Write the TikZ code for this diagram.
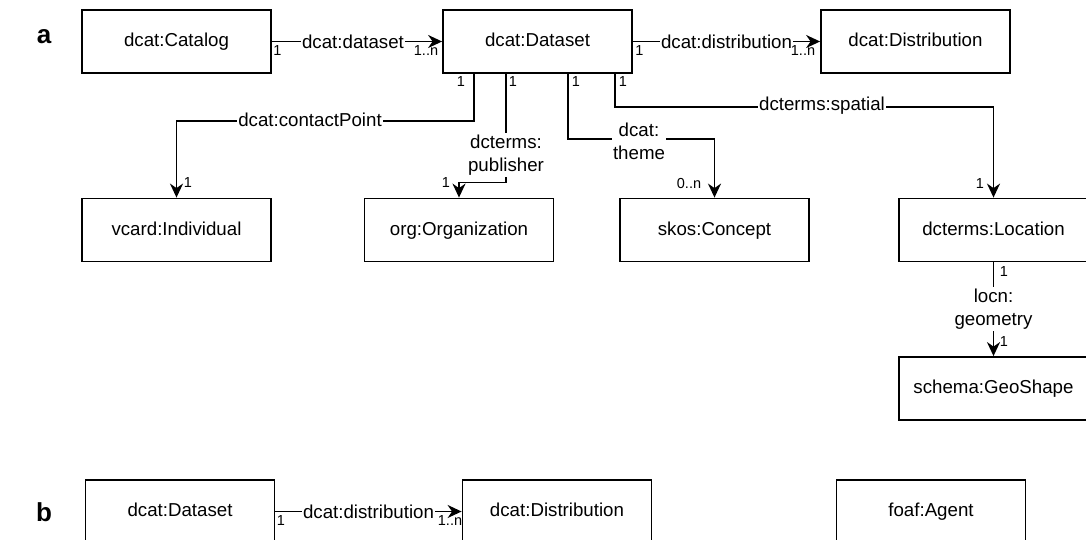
\documentclass[tikz,border=0pt]{standalone}
\usepackage{fontspec}
\setmainfont{Liberation Sans}
\usetikzlibrary{arrows.meta}

\begin{document}
\begin{tikzpicture}[x=1pt,y=-1pt,
  cls/.style={draw, line width=1.8pt, minimum width=189pt, minimum height=63pt,
              inner sep=0pt, text height=13.5pt, text depth=3.5pt,
              font=\fontsize{18.7}{22}\selectfont},
  rel/.style={line width=1.8pt, -{Stealth[length=14pt,width=13pt,inset=4.5pt]}},
  lbl/.style={fill=white, inner sep=1.5pt, align=center,
              font=\fontsize{18.7}{23}\selectfont},
  card/.style={inner sep=0pt, font=\fontsize{14.5}{16}\selectfont},
  panel/.style={inner sep=0pt, font=\fontsize{26}{30}\selectfont\bfseries}]

\useasboundingbox (0,0) rectangle (1086,540);
\clip (0,0) rectangle (1086,540);

% panel letters
\node[panel] (pa) at (44,37) {a};
\node[panel] (pb) at (44,512) {b};

% ---------- panel a: classes ----------
\node[cls] (cat)  at (176.5,41.5) {dcat:Catalog};
\node[cls] (ds)   at (537.5,41.5) {dcat:Dataset};
\node[cls] (dist) at (915.5,41.5) {dcat:Distribution};
\node[cls] (vc)   at (176.5,230)  {vcard:Individual};
\node[cls] (org)  at (459,230)    {org:Organization};
\node[cls] (sk)   at (714.5,230)  {skos:Concept};
\node[cls] (loc)  at (993.5,230)  {dcterms:Location};
\node[cls] (geo)  at (993.5,388.5){schema:GeoShape};

% ---------- panel a: properties ----------
\draw[rel] (cat.east) -- (ds.west);
\node[lbl] (l1) at (353,41.5) {dcat:dataset};
\node[card] (c1a) at (277.5,51) {1};
\node[card] (c1b) at (426,51) {1..n};

\draw[rel] (ds.east) -- (dist.west);
\node[lbl] (l2) at (726.5,41.5) {dcat:distribution};
\node[card] (c2a) at (639.5,51) {1};
\node[card] (c2b) at (803,51) {1..n};

\draw[rel] ([xshift=32pt]ds.south west) -- ++(0,47) -| (vc.north);
\node[lbl] (l3) at (310,120) {dcat:contactPoint};
\node[card] (c3a) at (461,82) {1};
\node[card] (c3b) at (188,183) {1};

\draw[rel] ([xshift=64pt]ds.south west) |- ([yshift=15pt]org.north) -- (org.north);
\node[lbl] (l4) at (506,155) {dcterms:\\publisher};
\node[card] (c4a) at (513,82) {1};
\node[card] (c4b) at (446,183) {1};

\draw[rel] ([xshift=126pt]ds.south west) -- ++(0,65.5) -| (sk.north);
\node[lbl] (l5) at (639,141) {dcat:\\theme};
\node[card] (c5a) at (576,82) {1};
\node[card] (c5b) at (689,184) {0..n};

\draw[rel] ([xshift=173pt]ds.south west) -- ++(0,33) -| (loc.north);
\node[lbl] (l6) at (822,105.5) {dcterms:spatial};
\node[card] (c6a) at (623,82) {1};
\node[card] (c6b) at (980,184) {1};

\draw[rel] (loc.south) -- (geo.north);
\node[lbl] (l7) at (993.5,309) {locn:\\geometry};
\node[card] (c7a) at (1004,272) {1};
\node[card] (c7b) at (1004,342) {1};

% ---------- panel b ----------
\node[cls] (bds)   at (180,511.5) {dcat:Dataset};
\node[cls] (bdist) at (557,511.5) {dcat:Distribution};
\node[cls] (agent) at (931,511.5) {foaf:Agent};

\draw[rel] (bds.east) -- (bdist.west);
\node[lbl] (l8) at (368.5,511.5) {dcat:distribution};
\node[card] (c8a) at (281,521) {1};
\node[card] (c8b) at (450,521) {1..n};

\end{tikzpicture}
\end{document}
